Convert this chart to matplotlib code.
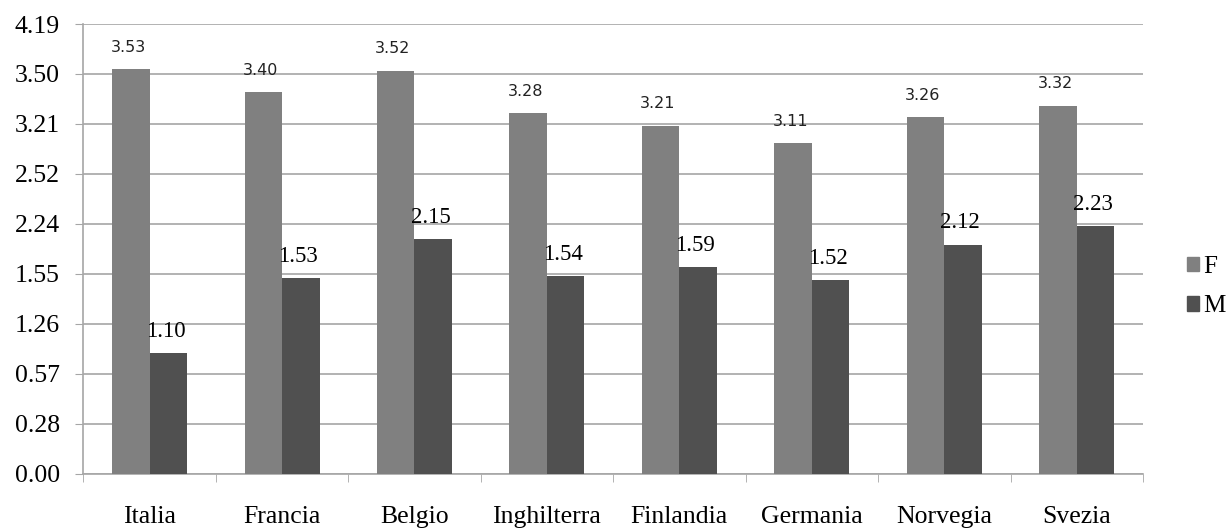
import numpy as np
import matplotlib
matplotlib.use("Agg")
import matplotlib.pyplot as plt
from matplotlib.patches import Patch

# categories and series
countries = ['Italia', 'Francia', 'Belgio', 'Inghilterra', 'Finlandia',
             'Germania', 'Norvegia', 'Svezia']
# bar heights as drawn (in units of the evenly spaced gridlines)
f_heights = [8.09, 7.63, 8.06, 7.21, 6.96, 6.61, 7.13, 7.36]
m_heights = [2.41, 3.91, 4.69, 3.95, 4.13, 3.87, 4.58, 4.95]
# values printed above the bars
f_labels = ['3.53', '3.40', '3.52', '3.28', '3.21', '3.11', '3.26', '3.32']
m_labels = ['1.10', '1.53', '2.15', '1.54', '1.59', '1.52', '2.12', '2.23']
# y tick labels, bottom to top
y_ticklabels = ['0.00', '0.28', '0.57', '1.26', '1.55', '2.24', '2.52',
                '3.21', '3.50', '4.19']

f_color = '#808080'
m_color = '#505050'
grid_color = '#a6a6a6'
serif = ['Liberation Serif', 'DejaVu Serif']

fig = plt.figure(figsize=(12.31, 5.29), dpi=100)
ax = fig.add_axes([0.0677, 0.1045, 0.8608, 0.8501])

x = np.arange(len(countries))
w = 0.283
ax.bar(x - w / 2, f_heights, w, color=f_color, zorder=3)
ax.bar(x + w / 2, m_heights, w, color=m_color, zorder=3)

# value labels
for xi, h, s in zip(x, f_heights, f_labels):
    ax.annotate(s, (xi - w / 2, h), xytext=(-2, 16), textcoords='offset points',
                ha='center', va='center', fontsize=11.5,
                family=['DejaVu Sans'], color='#222222')
for xi, h, s in zip(x, m_heights, m_labels):
    ax.annotate(s, (xi + w / 2, h), xytext=(-2, 16), textcoords='offset points',
                ha='center', va='center', fontsize=16.5, family=serif)

ax.set_xlim(-0.5, len(countries) - 0.5)
ax.set_ylim(0, len(y_ticklabels) - 1)

ax.set_yticks(np.arange(len(y_ticklabels)))
ax.set_yticklabels(y_ticklabels, family=serif, fontsize=18.5)
ax.tick_params(axis='y', length=6, color=grid_color, pad=11)
ax.yaxis.grid(True, color=grid_color, linewidth=1.2, zorder=0)

ax.set_xticks(x)
ax.set_xticklabels(countries, family=serif, fontsize=18.5)
ax.tick_params(axis='x', which='major', length=0, pad=23)
ax.set_xticks(np.arange(len(countries) + 1) - 0.5, minor=True)
ax.tick_params(axis='x', which='minor', length=6, color=grid_color,
               direction='out')

for side in ['top', 'right']:
    ax.spines[side].set_visible(False)
for side in ['left', 'bottom']:
    ax.spines[side].set_color(grid_color)
    ax.spines[side].set_linewidth(1.2)

handles = [Patch(color=f_color, label='F'), Patch(color=m_color, label='M')]
fig.legend(handles=handles, loc='center left', bbox_to_anchor=(0.95, 0.458),
           frameon=False, prop={'family': serif, 'size': 18},
           handlelength=0.5, handleheight=0.5, handletextpad=0.15,
           labelspacing=0.7, borderpad=0.2)

fig.savefig('out.png', dpi=100)
